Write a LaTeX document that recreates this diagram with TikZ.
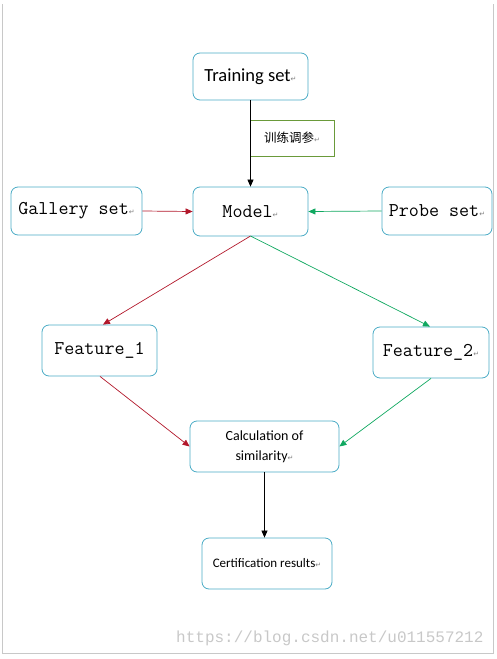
\documentclass[tikz,border=0pt]{standalone}
\usepackage{fontspec}
\setmainfont{Carlito}
\newfontfamily\cjk{Noto Sans CJK SC}
\newfontfamily\dejavu{DejaVu Sans}
\newfontfamily\wmfont{Liberation Mono}
\usetikzlibrary{arrows.meta}
\definecolor{boxc}{HTML}{4BACC6}
\definecolor{redc}{HTML}{B2182B}
\definecolor{greenc}{HTML}{10A860}
\definecolor{labc}{HTML}{6A9A3A}
\definecolor{framec}{HTML}{C8C8C8}
\newcommand\retmark{{\color{gray}\dejavu\fontsize{7}{8}\selectfont ↵}}
\tikzset{
  box/.style={draw=boxc, line width=0.8pt, rounded corners=7pt, fill=white, inner sep=0pt, align=center},
  monotxt/.style={font=\ttfamily\fontsize{19.5}{22}\selectfont},
  conn/.style={line width=0.7pt, -{Triangle[length=7pt,width=6pt]}},
}
\begin{document}
\begin{tikzpicture}[x=1pt,y=-1pt]
\useasboundingbox (0,0) rectangle (497,659);
% frame
\draw[framec, line width=0.6pt] (2,4) -- (2,653) -- (493,653) -- (493,4);
% watermark
\node[text=framec, font=\wmfont\fontsize{16}{18}\selectfont, anchor=east] (wm) at (487,638) {https://blog.csdn.net/u011557212};
% nodes
\node[box, font=\fontsize{18.5}{22}\selectfont, minimum width=115pt, minimum height=47pt] (train) at (250.5,76.5) {Training set\retmark};
\node[draw=labc, line width=0.6pt, fill=white, minimum width=84pt, minimum height=36pt, inner sep=0pt, font=\cjk\fontsize{12.5}{14}\selectfont] (lab) at (292,138) {训练调参\retmark};
\node[box, monotxt, minimum width=115pt, minimum height=49pt] (model) at (250.5,211.5) {Model\retmark};
\node[box, monotxt, minimum width=131pt, minimum height=48pt] (gallery) at (76.5,211) {Gallery set\retmark};
\node[box, monotxt, minimum width=110pt, minimum height=48pt] (probe) at (437,211) {Probe set\retmark};
\node[box, monotxt, minimum width=115pt, minimum height=51pt] (f1) at (99.5,350.5) {Feature\_1};
\node[box, monotxt, minimum width=116pt, minimum height=51pt] (f2) at (431,352.5) {Feature\_2\retmark};
\node[box, font=\fontsize{14}{20}\selectfont, minimum width=149pt, minimum height=51pt] (calc) at (264.5,446.5) {Calculation of\\similarity\retmark};
\node[box, font=\fontsize{13}{15}\selectfont, minimum width=130pt, minimum height=51pt] (cert) at (267,563.5) {Certification results\retmark};
% connectors
\coordinate (mb) at (250.5,236);
\draw[conn, black] (train.south) -- (model.north);
\draw[conn, redc] (gallery.east) -- (model.west);
\draw[conn, greenc] (probe.west) -- (model.east);
\draw[conn, redc] (mb) -- (f1.north -| 103,0);
\draw[conn, greenc] (mb) -- (f2.north -| 430,0);
\draw[conn, redc] (f1.south -| 100,0) -- (calc.west);
\draw[conn, greenc] (f2.south -| 431,0) -- (calc.east);
\draw[conn, black] (calc.south) -- (calc.south |- cert.north);
\end{tikzpicture}
\end{document}
